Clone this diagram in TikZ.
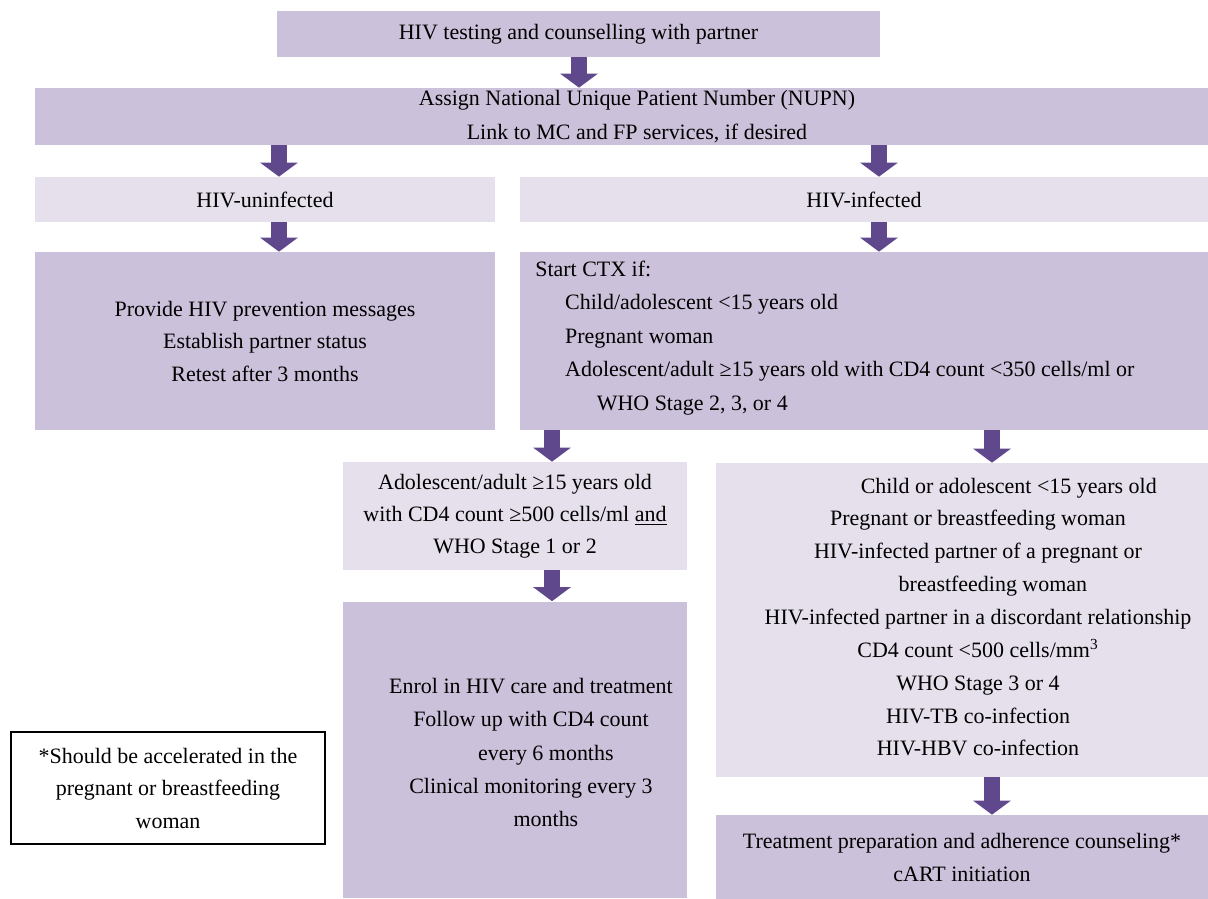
\documentclass[tikz,border=0pt]{standalone}
\usepackage{fontspec}
\setmainfont{Liberation Serif}
\usetikzlibrary{arrows.meta}
\definecolor{lilacdark}{RGB}{204,193,218}
\definecolor{lilaclight}{RGB}{229,224,236}
\definecolor{arrowpurple}{RGB}{95,73,140}
\tikzset{%
    dbox/.style={rectangle, fill=lilacdark, inner sep=0pt, align=center, font=\fontsize{12.5}{18.5}\selectfont},
    lbox/.style={rectangle, fill=lilaclight, inner sep=0pt, align=center, font=\fontsize{12.5}{18.5}\selectfont},
    txt/.style={align=center, inner sep=0pt, font=\fontsize{12.5}{18.5}\selectfont},
    pra/.style={line width=0.32cm, draw=arrowpurple, -{Triangle[width=0.74cm,length=0.28cm]}}
}
\begin{document}
\begin{tikzpicture}[x=0.02cm,y=-0.02cm]
    \useasboundingbox (0,0) rectangle (1208,899);
    % boxes
    \node[dbox,minimum width=12.06cm,minimum height=0.92cm] (test) at (578.5,34) {HIV testing and counselling with partner};
    \node[dbox,minimum width=23.46cm,minimum height=1.14cm] (nupn) at (621.5,116.5) {};
    \node[lbox,minimum width=9.2cm,minimum height=0.9cm] (uninf) at (265,199.5) {HIV-uninfected};
    \node[lbox,minimum width=13.76cm,minimum height=0.9cm] (inf) at (864,199.5) {HIV-infected};
    \node[dbox,minimum width=9.2cm,minimum height=3.56cm] (prov) at (265,341) {Provide HIV prevention messages\\Establish partner status\\Retest after 3 months};
    \node[dbox,minimum width=13.76cm,minimum height=3.56cm] (ctx) at (864,341) {};
    \node[lbox,font=\fontsize{12.5}{18.2}\selectfont,minimum width=6.88cm,minimum height=2.16cm] (adol) at (515,516) {Adolescent/adult ≥15 years old\\with CD4 count ≥500 cells/ml \underline{and}\\WHO Stage 1 or 2};
    \node[lbox,minimum width=9.84cm,minimum height=6.28cm] (child) at (962,620) {};
    \node[dbox,minimum width=6.88cm,minimum height=5.94cm] (enrol) at (515,750) {};
    \node[dbox,font=\fontsize{12.5}{18.8}\selectfont,minimum width=9.84cm,minimum height=1.68cm] (treat) at (962,857) {Treatment preparation and adherence counseling*\\cART initiation};
    \node[txt,draw,line width=0.9pt,fill=white,minimum width=6.28cm,minimum height=2.24cm] (note) at (168,788) {*Should be accelerated in the\\pregnant or breastfeeding\\woman};
    % texts
    \node[txt,font=\fontsize{12.5}{19.3}\selectfont] (nupntxt) at (637,116.5) {Assign National Unique Patient Number (NUPN)\\Link to MC and FP services, if desired};
    \node[txt,align=left,anchor=west,font=\fontsize{12.5}{19.1}\selectfont] (ctxtxt) at (535,338) {Start CTX if:\\\hspace*{17pt}Child/adolescent <15 years old\\\hspace*{17pt}Pregnant woman\\\hspace*{17pt}Adolescent/adult ≥15 years old with CD4 count <350 cells/ml or\\\hspace*{35pt}WHO Stage 2, 3, or 4};
    \node[txt,font=\fontsize{12.5}{18.7}\selectfont] (childtxt) at (978,617) {\hspace*{35pt}Child or adolescent <15 years old\\Pregnant or breastfeeding woman\\HIV-infected partner of a pregnant or\\\hspace*{17pt}breastfeeding woman\\HIV-infected partner in a discordant relationship\\CD4 count <500 cells/mm\textsuperscript{3}\\WHO Stage 3 or 4\\HIV-TB co-infection\\HIV-HBV co-infection};
    \node[txt,font=\fontsize{12.5}{18.8}\selectfont] (enroltxt) at (531,752.5) {Enrol in HIV care and treatment\\Follow up with CD4 count\\\hspace*{17pt}every 6 months\\Clinical monitoring every 3\\\hspace*{17pt}months};
    % arrows
    \coordinate (colT) at (579,0);
    \coordinate (colA) at (279,0);
    \coordinate (colB) at (879,0);
    \coordinate (colC) at (552,0);
    \coordinate (colD) at (992,0);
    \draw[pra] (test.south -| colT) -- (nupn.north -| colT);
    \draw[pra] (nupn.south -| colA) -- (uninf.north -| colA);
    \draw[pra] (nupn.south -| colB) -- (inf.north -| colB);
    \draw[pra] (uninf.south -| colA) -- (prov.north -| colA);
    \draw[pra] (inf.south -| colB) -- (ctx.north -| colB);
    \draw[pra] (ctx.south -| colC) -- (adol.north -| colC);
    \draw[pra] (ctx.south -| colD) -- (child.north -| colD);
    \draw[pra] (adol.south -| colC) -- (enrol.north -| colC);
    \draw[pra] (child.south -| colD) -- (treat.north -| colD);
\end{tikzpicture}
\end{document}
